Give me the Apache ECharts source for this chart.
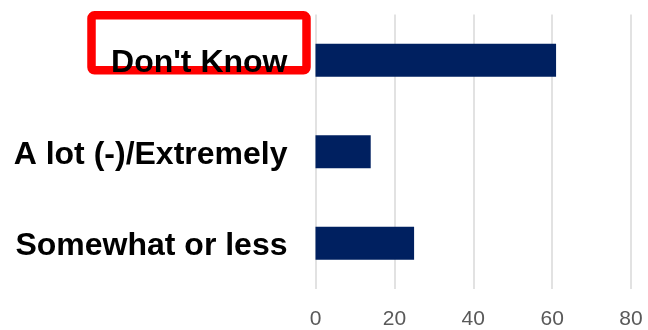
<!DOCTYPE html>
<html>
<head>
<meta charset="utf-8">
<script src="https://cdn.jsdelivr.net/npm/echarts@6/dist/echarts.min.js"></script>
<style>html,body{margin:0;padding:0;background:#fff;}#c{width:648px;height:330px;}</style>
</head>
<body>
<div id="c"></div>
<script>
const categories = ['Somewhat or less', 'A lot (-)/Extremely', "Don't Know"];
const values = [25, 14, 61];
const xTicks = [0, 20, 40, 60, 80];

const labelFont = {color: '#000000', fontSize: 32, fontWeight: 'bold', fontFamily: 'Liberation Sans, Arial, sans-serif'};
const chart = echarts.init(document.getElementById('c'), null, {renderer: 'canvas'});
chart.setOption({
  animation: false,
  backgroundColor: '#ffffff',
  grid: {left: 315.5, right: 17, top: 14.5, bottom: 38.5, containLabel: false},
  xAxis: {
    type: 'value',
    min: xTicks[0],
    max: xTicks[xTicks.length - 1],
    interval: 20,
    axisLine: {show: false},
    axisTick: {show: false},
    splitLine: {show: true, lineStyle: {color: '#d9d9d9', width: 1.5}},
    axisLabel: {color: '#595959', fontSize: 21, fontFamily: 'Liberation Sans, Arial, sans-serif', margin: 20}
  },
  yAxis: {
    type: 'category',
    data: categories,
    z: 5,
    axisLine: {show: false},
    axisTick: {show: false},
    splitLine: {show: false},
    axisLabel: Object.assign({}, labelFont, {
      margin: 28,
      formatter: function (v) { return '{a|' + v + '}'; },
      rich: {a: Object.assign({}, labelFont, {height: 40, lineHeight: 40, padding: [6, 0, 0, 0]})}
    })
  },
  series: [{
    type: 'bar',
    data: values,
    barCategoryGap: '64%',
    itemStyle: {color: '#002060'}
  }],
  graphic: {
    elements: [{
      type: 'rect',
      z: -1,
      shape: {x: 91.5, y: 15.3, width: 215, height: 55, r: 3},
      style: {fill: 'transparent', stroke: '#ff0000', lineWidth: 8.5}
    }]
  }
});
</script>
</body>
</html>
